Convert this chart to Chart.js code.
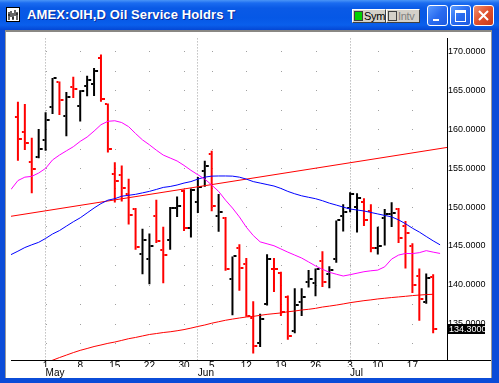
<!DOCTYPE html>
<html>
<head>
<meta charset="utf-8">
<script src="https://cdn.jsdelivr.net/npm/chart.js@4.4.0/dist/chart.umd.min.js"></script>
<style>
  html, body { margin: 0; padding: 0; }
  body { width: 499px; height: 383px; overflow: hidden; position: relative; background: #0b4cd8; font-family: "Liberation Sans", Arial, sans-serif; }
  #title { position: absolute; left: 0; top: 0; width: 499px; height: 30px;
    background: linear-gradient(180deg, #4a95f7 0px, #1b6cf0 3px, #0a5ae6 8px, #0658e6 18px, #0a5fec 25px, #0447d4 30px); }
  #icon { position: absolute; left: 6px; top: 7px; width: 12px; height: 13px; background: #fff; border: 1px solid #000; }
  #ttext { position: absolute; left: 27px; top: 7px; color: #fff; font: bold 13px "Liberation Sans", Arial, sans-serif; letter-spacing: 0.1px; text-shadow: 1px 1px 0 #0a2a9a; white-space: nowrap; }
  .tb { position: absolute; top: 9px; height: 12px; width: 32px; background: #d4d0c8; border: 1px solid; border-color: #fff #404040 #404040 #fff; font: 11px "Liberation Sans", Arial, sans-serif; line-height: 12px; overflow: hidden; }
  .tb i { position: absolute; left: 1px; top: 1px; width: 7px; height: 8px; border: 1px solid #404040; }
  .tb span { position: absolute; left: 11px; top: 0; letter-spacing: -0.3px; }
  .wb { position: absolute; top: 5px; width: 21px; height: 21px; border: 1px solid #fff; border-radius: 3px; box-sizing: border-box;
    background: linear-gradient(135deg, #5a9bff 0%, #2a6cf0 50%, #1d5ae0 100%); }
  #content { position: absolute; left: 5px; top: 30px; width: 487px; height: 348px; background: #fff; box-sizing: border-box;
    border-top: 2px solid #8a8884; border-left: 1px solid #9a9a9a; border-right: 1px solid #9a9a9a; }
  #chart { position: absolute; left: 6px; top: 32px; }
</style>
</head>
<body>
<div id="title">
  <div id="icon"><svg width="12" height="13" viewBox="0 0 12 13"><path d="M2 3v8M4 2v6M6 4v7M8 1v6M10 3v8M1 6h2M5 9h2M9 5h2" stroke="#000" stroke-width="1.2" fill="none"/></svg></div>
  <div id="ttext">AMEX:OIH,D Oil Service Holdrs T</div>
  <div class="tb" style="left:352px"><i style="background:#00d000"></i><span>Sym</span></div>
  <div class="tb" style="left:386px;color:#808080"><i style="background:#d4d0c8"></i><span>Intv</span></div>
  <div class="wb" style="left:427px"><div style="position:absolute;left:5px;top:13px;width:6px;height:2px;background:#fff"></div></div>
  <div class="wb" style="left:450px"><div style="position:absolute;left:4px;top:4px;width:9px;height:8px;border:1px solid #fff;border-top-width:3px"></div></div>
  <div class="wb" style="left:473px;background:linear-gradient(135deg,#f09070 0%,#e0502c 50%,#c8381a 100%)"><svg width="19" height="19" style="position:absolute;left:0;top:0"><path d="M5 5L14 14M14 5L5 14" stroke="#fff" stroke-width="2"/></svg></div>
</div>
<div id="content"></div>
<canvas id="chart" width="485" height="346"></canvas>
<script>
// daily bars, index 0 = Apr 25 ... index 60 = Jul 20
const opens  = [161.63, 159.61, 155.76, 156.46, 158.60, 162.81, 166.04, 161.76, 165.41, 163.02,
                165.50, 165.84, 169.19, 163.20, 154.28, 154.07, 151.63, 149.74, 143.91, 143.35,
                148.90, 144.49, 145.75, 149.87, 152.00, 147.35, 150.59, 154.62, 156.80, 148.82,
                148.60, 140.76, 144.70, 142.72, 135.79, 132.51, 137.55, 142.09, 141.46, 138.44,
                134.11, 137.77, 140.41, 140.20, 143.06, 141.42, 143.28, 148.82, 149.87, 149.96,
                150.59, 149.45, 144.70, 148.61, 149.15, 149.78, 147.56, 145.04, 141.17, 137.77,
                141.04];
const highs  = [163.52, 163.23, 158.91, 160.04, 162.18, 166.60, 166.13, 164.78, 166.76, 165.00,
                166.89, 167.86, 169.62, 163.32, 155.76, 155.33, 153.65, 149.87, 147.22, 146.59,
                150.92, 147.47, 150.00, 151.34, 152.26, 152.39, 153.87, 155.96, 157.22, 151.67,
                148.73, 143.65, 145.20, 143.44, 137.89, 136.29, 143.94, 143.44, 141.68, 138.61,
                139.57, 139.57, 141.89, 142.09, 144.32, 142.39, 148.27, 150.37, 151.89, 151.76,
                151.13, 150.37, 147.47, 149.74, 150.62, 149.87, 148.19, 145.33, 142.09, 141.46,
                141.34];
const lows   = [155.96, 157.34, 151.76, 156.26, 157.22, 161.97, 161.84, 159.11, 164.02, 161.00,
                164.24, 164.28, 163.52, 157.02, 150.59, 150.71, 147.76, 144.49, 141.34, 140.07,
                145.37, 140.20, 144.49, 148.73, 146.93, 146.09, 149.24, 152.60, 149.45, 146.81,
                141.80, 136.09, 139.24, 135.88, 131.17, 132.00, 137.35, 139.07, 136.00, 132.94,
                133.77, 136.00, 139.66, 138.52, 139.70, 139.57, 142.85, 146.84, 149.33, 146.72,
                147.56, 144.20, 143.91, 145.04, 147.44, 145.37, 142.09, 138.94, 135.37, 137.55,
                133.77];
const closes = [158.78, 158.28, 154.91, 157.52, 161.21, 166.55, 163.82, 164.15, 165.12, 164.96,
                166.34, 167.48, 163.95, 157.43, 153.31, 152.48, 149.02, 144.92, 145.75, 145.04,
                145.58, 143.78, 149.87, 150.08, 147.35, 152.18, 152.60, 155.25, 150.08, 149.33,
                141.97, 143.65, 142.18, 136.00, 132.13, 135.66, 143.28, 141.97, 136.54, 133.36,
                137.39, 138.49, 140.79, 142.01, 140.41, 141.84, 148.27, 149.36, 151.67, 151.22,
                148.39, 144.70, 145.04, 149.15, 149.24, 146.00, 146.72, 140.00, 138.23, 140.83,
                134.30];

// moving averages, from index -1 to 61
const maShort = [152.26, 153.40, 153.84, 153.94, 154.37, 154.97, 156.05, 156.68, 157.22, 157.75,
                 158.44, 159.00, 159.76, 160.58, 161.02, 161.09, 160.86, 160.33, 159.45, 158.63,
                 158.00, 157.31, 156.68, 156.30, 155.92, 155.35, 154.72, 154.15, 153.59, 152.83,
                 152.01, 150.88, 149.87, 148.73, 147.41, 146.34, 145.52, 145.27, 145.02, 144.61,
                 144.20, 143.82, 143.44, 142.94, 142.43, 141.99, 141.61, 141.36, 141.13, 141.30,
                 141.49, 141.68, 141.80, 141.89, 142.31, 143.31, 143.82, 144.03, 144.01, 144.13,
                 144.39, 144.20, 144.03];
const maLong  = [143.88, 144.32, 144.79, 145.14, 145.46, 145.96, 146.53, 146.97, 147.54, 148.10,
                 148.61, 149.24, 149.87, 150.44, 150.88, 151.07, 151.39, 151.51, 151.63, 151.82,
                 152.01, 152.26, 152.52, 152.64, 152.83, 153.08, 153.27, 153.59, 153.84, 153.97,
                 153.99, 153.99, 153.97, 153.84, 153.59, 153.27, 153.08, 152.89, 152.70, 152.39,
                 152.01, 151.70, 151.44, 151.25, 151.07, 150.81, 150.50, 150.25, 149.99, 149.74,
                 149.62, 149.49, 149.30, 149.11, 148.92, 148.73, 148.35, 147.85, 147.28, 146.78,
                 146.21, 145.65, 145.14];
// lower curved channel, from index 4 to 60
const lowerCurve = [129.89, 130.30, 130.64, 130.96, 131.28, 131.57, 131.81, 132.06, 132.26, 132.47,
                    132.64, 132.85, 133.07, 133.23, 133.42, 133.61, 133.73, 133.86, 133.96, 134.09,
                    134.24, 134.43, 134.64, 134.83, 135.06, 135.25, 135.44, 135.59, 135.73, 135.86,
                    135.94, 136.07, 136.20, 136.29, 136.38, 136.53, 136.63, 136.76, 136.85, 136.97,
                    137.14, 137.26, 137.39, 137.54, 137.70, 137.83, 137.96, 138.06, 138.18, 138.27,
                    138.36, 138.44, 138.52, 138.61, 138.68, 138.74, 138.78];
// straight trend line end points
const trendX = [-1, 62];
const trendY = [148.81, 157.66];

const weekIdx    = [4, 9, 14, 19, 24, 28, 33, 38, 43, 48, 52, 57];
const weekLabels = ['1', '8', '15', '22', '30', '5', '12', '19', '26', '3', '10', '17'];
const monthIdx    = [4, 26, 48];
const monthLabels = ['May', 'Jun', 'Jul'];

const RED = '#ff0000', BLACK = '#000000';
const isDown = i => closes[i] < opens[i];

function tickImage(color, side) {
  const c = document.createElement('canvas');
  c.width = 10; c.height = 2;
  const g = c.getContext('2d');
  g.fillStyle = color;
  if (side === 'open') g.fillRect(2, 0, 2, 2);
  else g.fillRect(6, 0, 3, 2);
  return c;
}
const openImg  = { red: tickImage(RED, 'open'),  black: tickImage(BLACK, 'open') };
const closeImg = { red: tickImage(RED, 'close'), black: tickImage(BLACK, 'close') };

const idx = closes.map((_, i) => i);

// dots where week columns meet price rows
const dotGrid = {
  id: 'dotGrid',
  beforeDatasetsDraw(chart) {
    const { ctx, scales: { x, y } } = chart;
    ctx.save();
    ctx.fillStyle = '#a0a0a0';
    y.ticks.forEach(t => {
      const py = Math.round(y.getPixelForValue(t.value));
      x.ticks.forEach(s => ctx.fillRect(Math.round(x.getPixelForValue(s.value)), py, 1, 1));
    });
    ctx.restore();
  }
};

const axisExtras = {
  id: 'axisExtras',
  afterDraw(chart) {
    const { ctx, chartArea: a, scales: { y } } = chart;
    ctx.save();
    ctx.fillStyle = '#000';
    ctx.fillRect(a.right, a.bottom, chart.width - a.right, 1);
    const last = closes[closes.length - 1];
    const py = Math.round(y.getPixelForValue(last));
    ctx.fillRect(a.right + 1, py - 5, 37, 10);
    ctx.fillStyle = '#fff';
    ctx.font = '9px "Liberation Sans", Arial, sans-serif';
    ctx.textBaseline = 'middle';
    ctx.fillText(last.toFixed(4), a.right + 2, py + 0.5);
    ctx.restore();
  }
};

Chart.defaults.font.family = '"Liberation Sans", Arial, sans-serif';
Chart.defaults.font.size = 10;
Chart.defaults.color = '#000';

new Chart(document.getElementById('chart'), {
  type: 'scatter',
  data: {
    datasets: [
      { type: 'line', data: maShort.map((v, k) => ({ x: k - 1, y: v })), borderColor: '#ff00ff', borderWidth: 1, pointRadius: 0, order: 0 },
      { type: 'line', data: maLong.map((v, k) => ({ x: k - 1, y: v })), borderColor: '#0000ff', borderWidth: 1, pointRadius: 0, order: 0 },
      { type: 'line', data: lowerCurve.map((v, k) => ({ x: k + 4, y: v })), borderColor: RED, borderWidth: 1, pointRadius: 0, order: 0 },
      { type: 'line', data: trendX.map((v, k) => ({ x: v, y: trendY[k] })), borderColor: RED, borderWidth: 1, pointRadius: 0, order: 0 },
      { type: 'scatter', data: idx.map(i => ({ x: i, y: opens[i] })), pointRadius: 3, order: 1,
        pointStyle: c => c.dataIndex === undefined ? 'circle' : (isDown(c.dataIndex) ? openImg.red : openImg.black) },
      { type: 'scatter', data: idx.map(i => ({ x: i, y: closes[i] })), pointRadius: 3, order: 1,
        pointStyle: c => c.dataIndex === undefined ? 'circle' : (isDown(c.dataIndex) ? closeImg.red : closeImg.black) },
      { type: 'bar', data: idx.map(i => ({ x: i, y: [lows[i], highs[i]] })), barThickness: 2, borderWidth: 0, inflateAmount: 0, order: 2,
        backgroundColor: c => isDown(c.dataIndex) ? RED : BLACK }
    ]
  },
  options: {
    responsive: false,
    devicePixelRatio: 1,
    animation: false,
    events: [],
    layout: { padding: 0 },
    plugins: { legend: { display: false }, tooltip: { enabled: false } },
    scales: {
      x: {
        type: 'linear', position: 'bottom', min: -1, max: 62, offset: false, weight: 0,
        afterBuildTicks: s => { s.ticks = weekIdx.map(v => ({ value: v })); },
        afterFit: s => { s.height = 7; },
        ticks: { autoSkip: false, maxRotation: 0, padding: 0, callback: (v, i) => weekLabels[i] },
        grid: { display: false, drawTicks: false, offset: false },
        border: { display: true, color: '#000', width: 1 }
      },
      x2: {
        type: 'linear', position: 'bottom', min: -1, max: 62, offset: false, weight: 1,
        afterBuildTicks: s => { s.ticks = monthIdx.map(v => ({ value: v })); },
        afterFit: s => { s.height = 11; },
        ticks: { autoSkip: false, maxRotation: 0, padding: 0, align: 'start', callback: (v, i) => monthLabels[i] },
        grid: { display: true, drawOnChartArea: true, drawTicks: false, color: '#a0a0a0', lineWidth: 1, borderDash: [1, 2], offset: false },
        border: { display: false, dash: [1, 2] }
      },
      y: {
        type: 'linear', position: 'right', min: 130.33, max: 171.68, beginAtZero: false,
        afterFit: s => { s.width = 44; },
        ticks: {
          stepSize: 2.5, includeBounds: false, padding: 1, autoSkip: false, font: { size: 9 },
          callback: v => Math.abs(v / 5 - Math.round(v / 5)) < 1e-6 ? (Math.round(v * 4) / 4).toFixed(4) : ''
        },
        grid: { display: false, drawTicks: false },
        border: { display: true, color: '#000', width: 1 }
      }
    }
  },
  plugins: [dotGrid, axisExtras]
});
</script>
</body>
</html>
